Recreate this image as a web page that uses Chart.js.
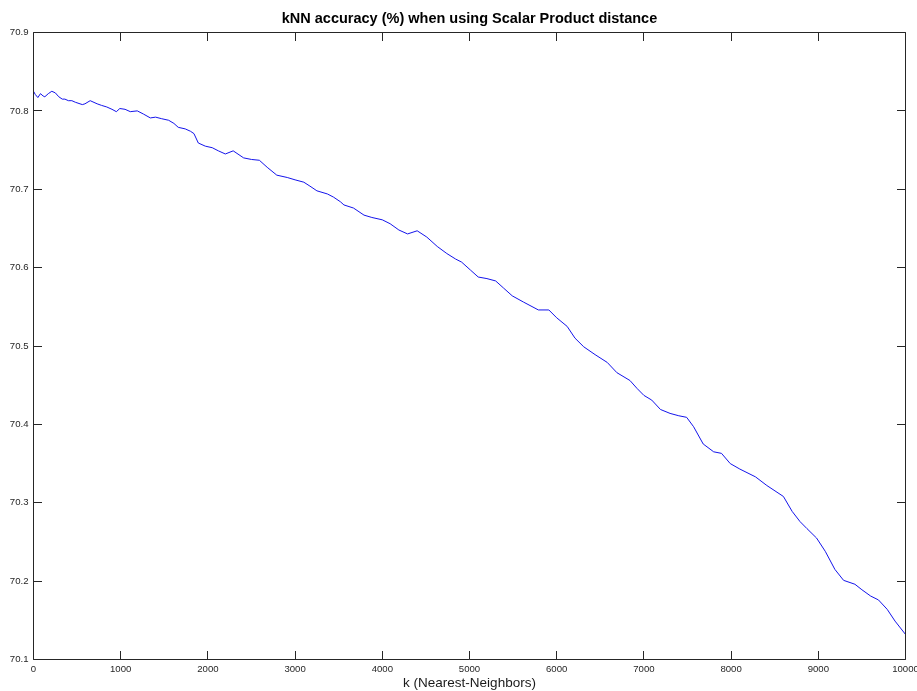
<!DOCTYPE html>
<html>
<head>
<meta charset="utf-8">
<script src="https://cdn.jsdelivr.net/npm/chart.js@4.4.1/dist/chart.umd.min.js"></script>
<style>
  html, body { margin: 0; padding: 0; background: #ffffff; }
  #wrap { width: 917px; height: 691px; }
</style>
</head>
<body>
<div id="wrap"><canvas id="c" width="917" height="691"></canvas></div>
<script>
// ---- data ----
const chartTitle = "kNN accuracy (%) when using Scalar Product distance";
const xAxisLabel = "k (Nearest-Neighbors)";
const kValues = [
  0, 20, 50, 80, 110, 130, 170, 210, 250, 290, 330, 360, 400, 440, 480, 560, 590, 650, 730, 780,
  840, 900, 950, 990, 1050, 1110, 1190, 1260, 1340, 1400, 1470, 1550, 1610, 1660, 1740, 1800, 1840, 1890, 1970, 2050,
  2120, 2200, 2290, 2410, 2500, 2590, 2680, 2790, 2910, 3000, 3100, 3170, 3250, 3370, 3440, 3520, 3560, 3670, 3790, 3880,
  4000, 4090, 4190, 4290, 4400, 4510, 4630, 4740, 4840, 4910, 5010, 5100, 5200, 5300, 5390, 5490, 5620, 5790, 5910, 6000,
  6120, 6210, 6310, 6440, 6580, 6690, 6840, 6920, 7000, 7090, 7190, 7300, 7400, 7490, 7570, 7680, 7800, 7890, 7990, 8100,
  8280, 8410, 8600, 8700, 8790, 8870, 8980, 9080, 9190, 9290, 9420, 9500, 9600, 9690, 9790, 9880, 10000
];
const accuracy = [
  70.825, 70.821, 70.817, 70.822, 70.819, 70.818, 70.822, 70.825, 70.823, 70.818, 70.815, 70.815, 70.813, 70.813, 70.811, 70.808, 70.809, 70.813, 70.809, 70.807,
  70.805, 70.802, 70.799, 70.803, 70.802, 70.799, 70.800, 70.796, 70.791, 70.792, 70.790, 70.788, 70.784, 70.779, 70.777, 70.774, 70.771, 70.759, 70.755, 70.753,
  70.749, 70.745, 70.749, 70.740, 70.738, 70.737, 70.728, 70.718, 70.715, 70.712, 70.709, 70.704, 70.698, 70.694, 70.690, 70.684, 70.680, 70.676, 70.667, 70.664,
  70.661, 70.656, 70.648, 70.643, 70.647, 70.639, 70.627, 70.618, 70.611, 70.607, 70.597, 70.588, 70.586, 70.583, 70.574, 70.564, 70.556, 70.546, 70.546, 70.536,
  70.525, 70.510, 70.499, 70.489, 70.479, 70.466, 70.456, 70.446, 70.437, 70.431, 70.419, 70.414, 70.411, 70.409, 70.397, 70.375, 70.365, 70.363, 70.350, 70.343,
  70.333, 70.322, 70.308, 70.289, 70.276, 70.267, 70.255, 70.238, 70.215, 70.201, 70.196, 70.189, 70.181, 70.176, 70.164, 70.149, 70.132
];
const xTickValues = [0, 1000, 2000, 3000, 4000, 5000, 6000, 7000, 8000, 9000, 10000];
const yTickValues = [70.1, 70.2, 70.3, 70.4, 70.5, 70.6, 70.7, 70.8, 70.9];

// ---- drawing ----
Chart.defaults.font.family = "'Liberation Sans', Arial, Helvetica, sans-serif";
const axisColor = '#262626';
const tickLen = 8.5;

const boxTicks = {
  id: 'boxTicks',
  afterDatasetsDraw(chart) {
    const { ctx, chartArea: a, scales: { x, y } } = chart;
    ctx.save();
    ctx.strokeStyle = axisColor;
    ctx.lineWidth = 1;
    ctx.beginPath();
    ctx.rect(a.left, a.top, a.right - a.left, a.bottom - a.top);
    ctx.stroke();
    ctx.beginPath();
    xTickValues.forEach(v => {
      const px = Math.floor(x.getPixelForValue(v)) + 0.5;
      ctx.moveTo(px, a.bottom); ctx.lineTo(px, a.bottom - tickLen);
      ctx.moveTo(px, a.top); ctx.lineTo(px, a.top + tickLen);
    });
    yTickValues.forEach(v => {
      const py = Math.floor(y.getPixelForValue(v)) + 0.5;
      ctx.moveTo(a.left, py); ctx.lineTo(a.left + tickLen, py);
      ctx.moveTo(a.right, py); ctx.lineTo(a.right - tickLen, py);
    });
    ctx.stroke();
    ctx.restore();
  }
};

new Chart(document.getElementById('c'), {
  type: 'line',
  data: {
    datasets: [{
      data: kValues.map((k, i) => ({ x: k, y: accuracy[i] })),
      borderColor: 'rgb(20,20,235)',
      borderWidth: 1,
      pointRadius: 0,
      tension: 0,
      fill: false
    }]
  },
  options: {
    responsive: false,
    animation: false,
    devicePixelRatio: 1,
    layout: { padding: { left: 0, right: 11.5, top: 0, bottom: 0 } },
    plugins: {
      legend: { display: false },
      tooltip: { enabled: false },
      title: {
        display: true,
        text: chartTitle,
        fullSize: false,
        color: '#000000',
        font: { size: 14.5, weight: 'bold', lineHeight: 1.2 },
        padding: { top: 10, bottom: 5.1 }
      }
    },
    scales: {
      x: {
        type: 'linear',
        min: 0,
        max: 10000,
        afterBuildTicks: s => { s.ticks = xTickValues.map(v => ({ value: v })); },
        afterFit: s => { s.height = 31.5; s.paddingLeft = 0; s.paddingRight = 0; },
        grid: { display: false, drawTicks: false },
        border: { display: false },
        ticks: {
          autoSkip: false,
          maxRotation: 0,
          padding: 5,
          color: axisColor,
          font: { size: 9.6, lineHeight: 1 },
          callback: v => String(v)
        },
        title: {
          display: true,
          text: xAxisLabel,
          color: '#1a1a1a',
          font: { size: 13.5, lineHeight: 1 },
          padding: { top: 1.4, bottom: 1 }
        }
      },
      y: {
        type: 'linear',
        min: 70.1,
        max: 70.9,
        afterBuildTicks: s => { s.ticks = yTickValues.map(v => ({ value: v })); },
        afterFit: s => { s.width = 33.5; s.paddingTop = 0; s.paddingBottom = 0; },
        grid: { display: false, drawTicks: false },
        border: { display: false },
        ticks: {
          autoSkip: false,
          padding: 5,
          color: axisColor,
          font: { size: 9.6, lineHeight: 1 },
          callback: v => Number(v).toFixed(1)
        }
      }
    }
  },
  plugins: [boxTicks]
});
</script>
</body>
</html>
